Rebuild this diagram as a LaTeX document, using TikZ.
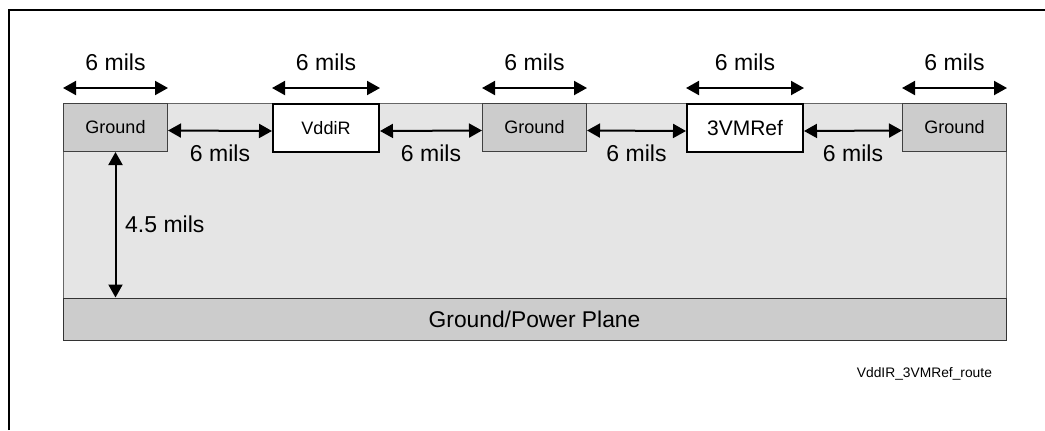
\documentclass[tikz,border=0pt]{standalone}
\usepackage{fontspec}
\setmainfont{Liberation Sans}
\usetikzlibrary{arrows.meta}

\begin{document}
\begin{tikzpicture}[x=0.5pt, y=-0.5pt,
    gndbox/.style={draw=black!75, fill=black!20, line width=0.5pt, minimum width=52pt,
        minimum height=24pt, inner sep=0pt, anchor=north west, font=\fontsize{9}{10}\selectfont},
    sigbox/.style={draw=black, fill=white, line width=1pt, minimum height=24pt,
        inner sep=0pt, anchor=north west},
    dim/.style={{Triangle[length=6.5pt,width=7pt]}-{Triangle[length=6.5pt,width=7pt]}, line width=1pt},
    dimlabel/.style={font=\fontsize{11.5}{13}\selectfont}]
    \useasboundingbox (0,0) rectangle (1045,430);

    % Draw the frame
    \draw[line width=1pt] (9,430) -- (9,10) -- (1045,10);

    % Draw the dielectric and the plane
    \fill[black!10] (63,103) rectangle (1006,298);
    \draw[black!60, line width=0.5pt] (63,298) -- (63,103) -- (1006,103) -- (1006,298);
    \node[draw=black!80, fill=black!20, line width=0.5pt, minimum width=471.5pt, minimum height=21pt,
        inner sep=0pt, font=\fontsize{11.4}{13}\selectfont] (plane) at (534.5,319) {Ground/Power Plane};

    % Place the traces
    \node[gndbox] (g1) at (63,103) {Ground};
    \node[sigbox, minimum width=53pt, font=\fontsize{9}{10}\selectfont] (vdd) at (272,103) {VddiR};
    \node[gndbox] (g2) at (482,103) {Ground};
    \node[sigbox, minimum width=58pt, font=\fontsize{10.5}{12}\selectfont] (ref) at (686,103) {3VMRef};
    \node[gndbox] (g3) at (902,103) {Ground};

    % Draw the widths
    \draw[dim] ([yshift=7.5pt]g1.north west) -- ([yshift=7.5pt]g1.north east) node[midway, above=5pt, dimlabel] {6 mils};
    \draw[dim] ([yshift=7.5pt]vdd.north west) -- ([yshift=7.5pt]vdd.north east) node[midway, above=5pt, dimlabel] {6 mils};
    \draw[dim] ([yshift=7.5pt]g2.north west) -- ([yshift=7.5pt]g2.north east) node[midway, above=5pt, dimlabel] {6 mils};
    \draw[dim] ([yshift=7.5pt]ref.north west) -- ([yshift=7.5pt]ref.north east) node[midway, above=5pt, dimlabel] {6 mils};
    \draw[dim] ([yshift=7.5pt]g3.north west) -- ([yshift=7.5pt]g3.north east) node[midway, above=5pt, dimlabel] {6 mils};

    % Draw the spacings
    \draw[dim] ([yshift=-1.5pt]g1.east) -- ([yshift=-1.5pt]vdd.west) node[midway, below=3pt, dimlabel] {6 mils};
    \draw[dim] ([yshift=-1.5pt]vdd.east) -- ([yshift=-1.5pt]g2.west) node[midway, below=3pt, dimlabel] {6 mils};
    \draw[dim] ([yshift=-1.5pt]g2.east) -- ([yshift=-1.5pt]ref.west) node[midway, below=3pt, dimlabel] {6 mils};
    \draw[dim] ([yshift=-1.5pt]ref.east) -- ([yshift=-1.5pt]g3.west) node[midway, below=3pt, dimlabel] {6 mils};

    % Draw the height
    \draw[dim] (g1.south) -- (g1.south |- plane.north) node[midway, right=1pt, dimlabel] {4.5 mils};

    % Place the caption with smaller font size
    \node[anchor=east, font=\fontsize{6.9}{8}\selectfont] (cap) at (999,374) {VddIR\_3VMRef\_route};

\end{tikzpicture}
\end{document}
